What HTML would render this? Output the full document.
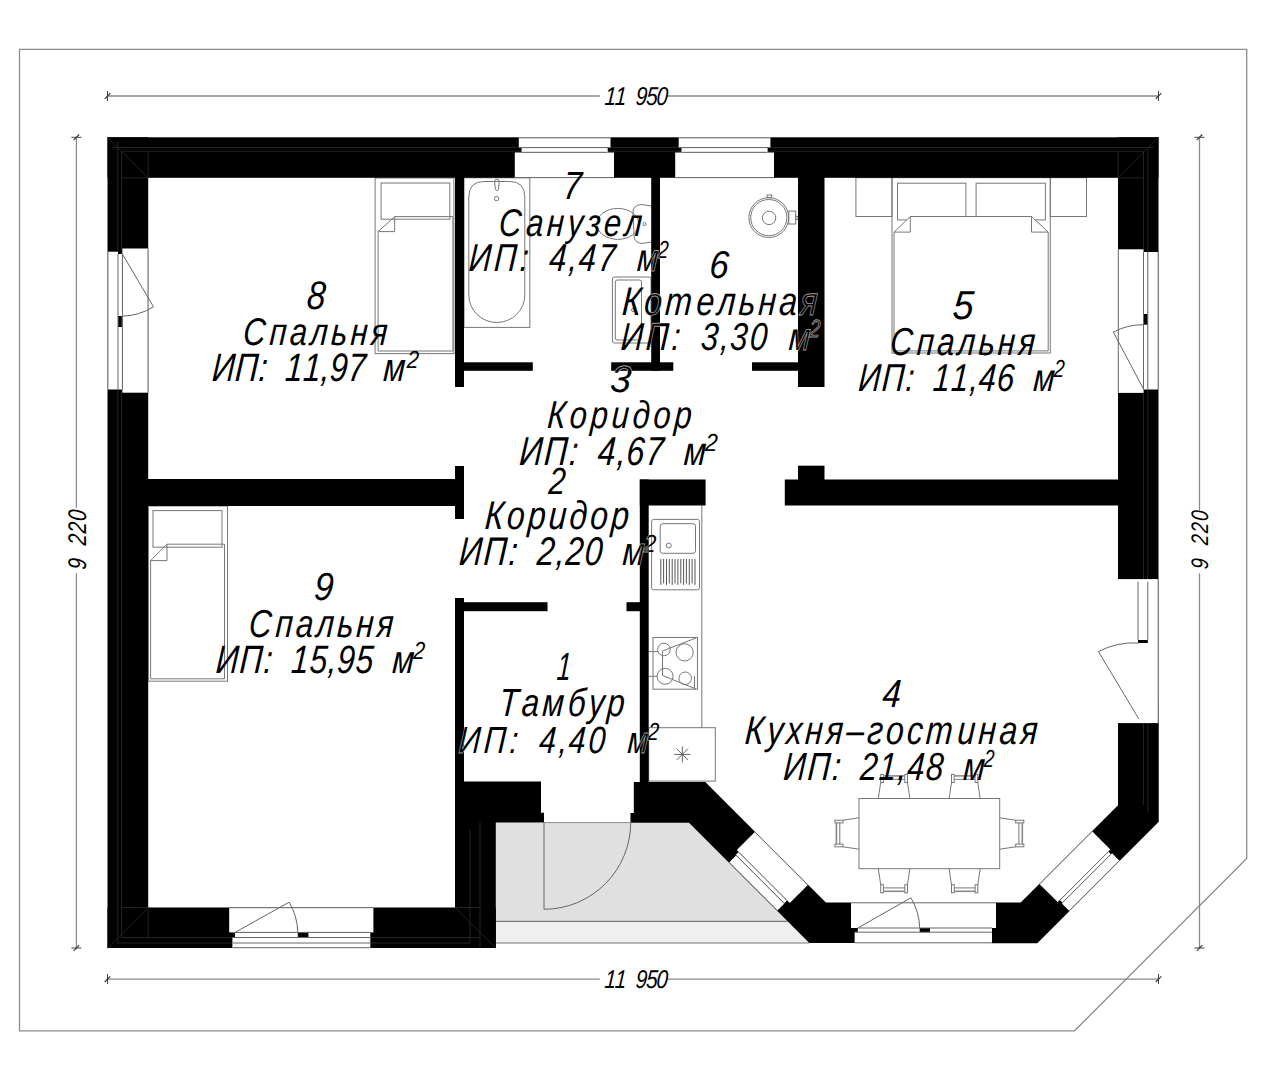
<!DOCTYPE html>
<html><head><meta charset="utf-8"><title>Floor plan</title><style>html,body{margin:0;padding:0;background:#fff;width:1276px;height:1080px;overflow:hidden}</style></head><body>
<svg width="1276" height="1080" viewBox="0 0 1276 1080" style="display:block">
<rect x="0.0" y="0.0" width="1276.0" height="1080.0" fill="#fff" stroke="none" stroke-width="0"/>
<polygon points="19.5,49.3 1246.7,49.3 1246.7,858.5 1074.5,1030.8 19.5,1030.8" fill="none" stroke="#8c8c8c" stroke-width="1.3"/>
<polygon points="495.8,822.5 689.0,822.5 787.5,921.4 495.8,921.4" fill="#e0e0e0" stroke="none" stroke-width="0"/>
<polygon points="495.8,921.4 787.5,921.4 809.2,943.0 495.8,943.0" fill="#efefef" stroke="none" stroke-width="0"/>
<line x1="495.8" y1="921.4" x2="787.5" y2="921.4" stroke="#777" stroke-width="1.2"/>
<line x1="495.8" y1="943.0" x2="809.2" y2="943.0" stroke="#777" stroke-width="1.2"/>
<line x1="107.5" y1="96.0" x2="599.8" y2="96.0" stroke="#8a8a8a" stroke-width="1.3"/>
<line x1="667.2" y1="96.0" x2="1158.5" y2="96.0" stroke="#8a8a8a" stroke-width="1.3"/>
<line x1="107.5" y1="91.0" x2="107.5" y2="101.0" stroke="#444" stroke-width="1"/>
<line x1="104.7" y1="98.8" x2="110.3" y2="93.2" stroke="#333" stroke-width="1.1"/>
<line x1="1158.5" y1="91.0" x2="1158.5" y2="101.0" stroke="#444" stroke-width="1"/>
<line x1="1155.7" y1="98.8" x2="1161.3" y2="93.2" stroke="#333" stroke-width="1.1"/>
<line x1="107.5" y1="979.2" x2="599.8" y2="979.2" stroke="#8a8a8a" stroke-width="1.3"/>
<line x1="667.2" y1="979.2" x2="1158.5" y2="979.2" stroke="#8a8a8a" stroke-width="1.3"/>
<line x1="107.5" y1="974.0" x2="107.5" y2="984.0" stroke="#444" stroke-width="1"/>
<line x1="104.7" y1="982.0" x2="110.3" y2="976.4" stroke="#333" stroke-width="1.1"/>
<line x1="1158.5" y1="974.0" x2="1158.5" y2="984.0" stroke="#444" stroke-width="1"/>
<line x1="1155.7" y1="982.0" x2="1161.3" y2="976.4" stroke="#333" stroke-width="1.1"/>
<line x1="76.4" y1="137.3" x2="76.4" y2="507.8" stroke="#8a8a8a" stroke-width="1.3"/>
<line x1="76.4" y1="573.3" x2="76.4" y2="948.0" stroke="#8a8a8a" stroke-width="1.3"/>
<line x1="71.4" y1="137.3" x2="81.4" y2="137.3" stroke="#444" stroke-width="1"/>
<line x1="73.6" y1="140.1" x2="79.2" y2="134.5" stroke="#333" stroke-width="1.1"/>
<line x1="71.4" y1="948.0" x2="81.4" y2="948.0" stroke="#444" stroke-width="1"/>
<line x1="73.6" y1="950.8" x2="79.2" y2="945.2" stroke="#333" stroke-width="1.1"/>
<line x1="1199.5" y1="137.3" x2="1199.5" y2="510.4" stroke="#8a8a8a" stroke-width="1.3"/>
<line x1="1199.5" y1="573.3" x2="1199.5" y2="948.0" stroke="#8a8a8a" stroke-width="1.3"/>
<line x1="1194.5" y1="137.3" x2="1204.5" y2="137.3" stroke="#444" stroke-width="1"/>
<line x1="1196.7" y1="140.1" x2="1202.3" y2="134.5" stroke="#333" stroke-width="1.1"/>
<line x1="1194.5" y1="948.0" x2="1204.5" y2="948.0" stroke="#444" stroke-width="1"/>
<line x1="1196.7" y1="950.8" x2="1202.3" y2="945.2" stroke="#333" stroke-width="1.1"/>
<rect x="375.1" y="178.0" width="78.8" height="175.6" fill="none" stroke="#777" stroke-width="1.0"/>
<rect x="381.1" y="183.0" width="68.7" height="36.2" fill="none" stroke="#777" stroke-width="1.0"/>
<polyline points="394.7,216.6 452.9,216.6 452.9,351.0 378.1,351.0 378.1,231.6 394.7,216.6 394.7,231.6 378.1,231.6" fill="none" stroke="#777" stroke-width="1.0"/>
<rect x="148.2" y="506.0" width="79.3" height="175.2" fill="none" stroke="#777" stroke-width="1.0"/>
<rect x="153.0" y="510.6" width="69.0" height="36.6" fill="none" stroke="#777" stroke-width="1.0"/>
<polyline points="167.0,544.2 224.5,544.2 224.5,678.8 150.6,678.8 150.6,560.6 167.0,544.2 167.0,560.6 150.6,560.6" fill="none" stroke="#777" stroke-width="1.0"/>
<rect x="855.9" y="177.7" width="36.1" height="38.8" fill="none" stroke="#777" stroke-width="1.0"/>
<rect x="1050.3" y="177.7" width="36.2" height="38.8" fill="none" stroke="#777" stroke-width="1.0"/>
<rect x="892.0" y="177.7" width="158.3" height="175.3" fill="none" stroke="#777" stroke-width="1.0"/>
<rect x="897.5" y="183.2" width="68.4" height="36.7" fill="#fff" stroke="#777" stroke-width="1.0"/>
<rect x="976.1" y="183.2" width="69.3" height="36.7" fill="#fff" stroke="#777" stroke-width="1.0"/>
<polygon points="910.3,216.5 1031.5,216.5 1048.2,232.1 1048.2,350.9 894.0,350.9 894.0,232.1 910.3,216.5" fill="#fff" stroke="#777" stroke-width="1.0"/>
<polyline points="910.3,216.5 910.3,232.1 894.0,232.1" fill="none" stroke="#777" stroke-width="1.0"/>
<polyline points="1031.5,216.5 1031.5,232.1 1048.2,232.1" fill="none" stroke="#777" stroke-width="1.0"/>
<rect x="464.0" y="177.8" width="65.8" height="149.6" fill="none" stroke="#777" stroke-width="1.0"/>
<path d="M 468.8,197 Q 468.8,181.5 484,181.5 L 509.6,181.5 Q 524.8,181.5 524.8,197 L 524.8,295 A 28 27.5 0 0 1 468.8,295 Z" fill="none" stroke="#777" stroke-width="1.0"/>
<path d="M 494.6,181.5 L 495.4,189.5 A 1.6 1.6 0 0 0 498.4,189.5 L 499.2,181.5 A 2.3 2.3 0 0 0 494.6,181.5 Z" fill="none" stroke="#777" stroke-width="1.0"/>
<circle cx="496.6" cy="198.6" r="2.2" fill="none" stroke="#777" stroke-width="1.0"/>
<ellipse cx="617.8" cy="223.9" rx="21" ry="15.5" fill="none" stroke="#777" stroke-width="1"/>
<path d="M 651,206 L 642,204.5 Q 632,205 633,214 L 634,233 Q 633,243 642,243.5 L 651,242" fill="none" stroke="#777" stroke-width="1.0"/>
<circle cx="644.5" cy="224.1" r="1.6" fill="none" stroke="#777" stroke-width="1.0"/>
<rect x="612.4" y="277.0" width="38.6" height="66.0" rx="2" fill="none" stroke="#777" stroke-width="1.0"/>
<rect x="615.3" y="280.0" width="26.2" height="60.0" rx="2" fill="none" stroke="#777" stroke-width="1.0"/>
<circle cx="633.0" cy="310.0" r="1.5" fill="none" stroke="#777" stroke-width="1.0"/>
<circle cx="768.8" cy="217.6" r="19.9" fill="none" stroke="#777" stroke-width="1.0"/>
<circle cx="768.8" cy="217.6" r="18.1" fill="none" stroke="#777" stroke-width="1.0"/>
<circle cx="769.1" cy="217.9" r="6.7" fill="none" stroke="#777" stroke-width="1.0"/>
<rect x="767.2" y="195.0" width="4.5" height="2.6" fill="none" stroke="#777" stroke-width="1.0"/>
<rect x="788.8" y="211.1" width="6.9" height="12.9" fill="none" stroke="#777" stroke-width="1.0"/>
<rect x="795.7" y="216.3" width="2.3" height="3.3" fill="none" stroke="#777" stroke-width="1.0"/>
<line x1="701.8" y1="505.3" x2="701.8" y2="727.7" stroke="#777" stroke-width="1.0"/>
<rect x="651.6" y="519.4" width="47.9" height="70.4" rx="2" fill="none" stroke="#777" stroke-width="1.0"/>
<rect x="660.2" y="523.7" width="35.3" height="29.6" rx="2.5" fill="none" stroke="#777" stroke-width="1.0"/>
<circle cx="668.8" cy="545.5" r="2.5" fill="none" stroke="#777" stroke-width="1.0"/>
<line x1="660.8" y1="559.0" x2="660.8" y2="584.9" stroke="#444" stroke-width="0.9"/>
<line x1="663.6" y1="559.0" x2="663.6" y2="583.4" stroke="#444" stroke-width="0.9"/>
<line x1="666.5" y1="559.0" x2="666.5" y2="584.9" stroke="#444" stroke-width="0.9"/>
<line x1="669.3" y1="559.0" x2="669.3" y2="583.4" stroke="#444" stroke-width="0.9"/>
<line x1="672.2" y1="559.0" x2="672.2" y2="584.9" stroke="#444" stroke-width="0.9"/>
<line x1="675.0" y1="559.0" x2="675.0" y2="583.4" stroke="#444" stroke-width="0.9"/>
<line x1="677.9" y1="559.0" x2="677.9" y2="584.9" stroke="#444" stroke-width="0.9"/>
<line x1="680.8" y1="559.0" x2="680.8" y2="583.4" stroke="#444" stroke-width="0.9"/>
<line x1="683.6" y1="559.0" x2="683.6" y2="584.9" stroke="#444" stroke-width="0.9"/>
<line x1="686.4" y1="559.0" x2="686.4" y2="583.4" stroke="#444" stroke-width="0.9"/>
<line x1="689.3" y1="559.0" x2="689.3" y2="584.9" stroke="#444" stroke-width="0.9"/>
<line x1="692.1" y1="559.0" x2="692.1" y2="583.4" stroke="#444" stroke-width="0.9"/>
<line x1="695.0" y1="559.0" x2="695.0" y2="584.9" stroke="#444" stroke-width="0.9"/>
<rect x="653.0" y="637.5" width="44.5" height="51.7" fill="none" stroke="#777" stroke-width="1.0"/>
<circle cx="663.9" cy="649.5" r="6.3" fill="none" stroke="#777" stroke-width="1.0"/>
<circle cx="684.6" cy="652.4" r="8.6" fill="none" stroke="#777" stroke-width="1.0"/>
<circle cx="665.1" cy="676.3" r="8.0" fill="none" stroke="#777" stroke-width="1.0"/>
<circle cx="685.2" cy="678.3" r="6.3" fill="none" stroke="#777" stroke-width="1.0"/>
<line x1="648.7" y1="651.6" x2="658.0" y2="651.6" stroke="#777" stroke-width="1.0"/>
<line x1="648.7" y1="676.3" x2="657.0" y2="676.3" stroke="#777" stroke-width="1.0"/>
<polyline points="662.5,651.0 696.0,638.0" fill="none" stroke="#777" stroke-width="1.0"/>
<polyline points="662.5,651.0 662.5,675.5 696.0,689.0" fill="none" stroke="#777" stroke-width="1.0"/>
<line x1="694.5" y1="676.0" x2="694.5" y2="688.0" stroke="#777" stroke-width="1.0"/>
<rect x="648.7" y="727.7" width="66.6" height="53.4" fill="none" stroke="#777" stroke-width="1.0"/>
<line x1="674.3" y1="754.4" x2="690.3" y2="754.4" stroke="#555" stroke-width="0.9"/>
<line x1="676.6" y1="748.7" x2="688.0" y2="760.1" stroke="#555" stroke-width="0.9"/>
<line x1="682.3" y1="746.4" x2="682.3" y2="762.4" stroke="#555" stroke-width="0.9"/>
<line x1="688.0" y1="748.7" x2="676.6" y2="760.1" stroke="#555" stroke-width="0.9"/>
<rect x="859.0" y="798.5" width="140.7" height="70.2" fill="none" stroke="#777" stroke-width="1.0"/>
<path d="M 878.3,798.5 L 880.7,782.5 M 909.9,798.5 L 907.5,782.5" fill="none" stroke="#777" stroke-width="1.0"/>
<rect x="880.7" y="774.4" width="2.7" height="8.1" fill="none" stroke="#777" stroke-width="1.0"/>
<rect x="904.8" y="774.4" width="2.7" height="8.1" fill="none" stroke="#777" stroke-width="1.0"/>
<line x1="883.4" y1="775.9" x2="904.8" y2="775.9" stroke="#888" stroke-width="1.6"/>
<line x1="883.4" y1="779.3" x2="904.8" y2="779.3" stroke="#777" stroke-width="1"/>
<path d="M 949.1,798.5 L 951.5,782.5 M 980.2,798.5 L 977.8,782.5" fill="none" stroke="#777" stroke-width="1.0"/>
<rect x="951.5" y="774.4" width="2.7" height="8.1" fill="none" stroke="#777" stroke-width="1.0"/>
<rect x="975.1" y="774.4" width="2.7" height="8.1" fill="none" stroke="#777" stroke-width="1.0"/>
<line x1="954.2" y1="775.9" x2="975.1" y2="775.9" stroke="#888" stroke-width="1.6"/>
<line x1="954.2" y1="779.3" x2="975.1" y2="779.3" stroke="#777" stroke-width="1"/>
<path d="M 878.3,868.7 L 880.7,884.7 M 909.9,868.7 L 907.5,884.7" fill="none" stroke="#777" stroke-width="1.0"/>
<rect x="880.7" y="884.7" width="2.7" height="8.1" fill="none" stroke="#777" stroke-width="1.0"/>
<rect x="904.8" y="884.7" width="2.7" height="8.1" fill="none" stroke="#777" stroke-width="1.0"/>
<line x1="883.4" y1="891.3" x2="904.8" y2="891.3" stroke="#888" stroke-width="1.6"/>
<line x1="883.4" y1="887.9" x2="904.8" y2="887.9" stroke="#777" stroke-width="1"/>
<path d="M 949.1,868.7 L 951.5,884.7 M 980.2,868.7 L 977.8,884.7" fill="none" stroke="#777" stroke-width="1.0"/>
<rect x="951.5" y="884.7" width="2.7" height="8.1" fill="none" stroke="#777" stroke-width="1.0"/>
<rect x="975.1" y="884.7" width="2.7" height="8.1" fill="none" stroke="#777" stroke-width="1.0"/>
<line x1="954.2" y1="891.3" x2="975.1" y2="891.3" stroke="#888" stroke-width="1.6"/>
<line x1="954.2" y1="887.9" x2="975.1" y2="887.9" stroke="#777" stroke-width="1"/>
<path d="M 859.0,817.8 L 843.0,820.2 M 859.0,849.2 L 843.0,846.8" fill="none" stroke="#777" stroke-width="1.0"/>
<rect x="834.9" y="820.2" width="8.1" height="2.7" fill="none" stroke="#777" stroke-width="1.0"/>
<rect x="834.9" y="844.1" width="8.1" height="2.7" fill="none" stroke="#777" stroke-width="1.0"/>
<line x1="836.4" y1="822.9" x2="836.4" y2="844.1" stroke="#888" stroke-width="1.6"/>
<line x1="839.8" y1="822.9" x2="839.8" y2="844.1" stroke="#777" stroke-width="1"/>
<path d="M 999.7,817.8 L 1015.7,820.2 M 999.7,849.2 L 1015.7,846.8" fill="none" stroke="#777" stroke-width="1.0"/>
<rect x="1015.7" y="820.2" width="8.1" height="2.7" fill="none" stroke="#777" stroke-width="1.0"/>
<rect x="1015.7" y="844.1" width="8.1" height="2.7" fill="none" stroke="#777" stroke-width="1.0"/>
<line x1="1022.3" y1="822.9" x2="1022.3" y2="844.1" stroke="#888" stroke-width="1.6"/>
<line x1="1018.9" y1="822.9" x2="1018.9" y2="844.1" stroke="#777" stroke-width="1"/>
<rect x="107.5" y="137.3" width="1051.0" height="40.5" fill="#000" stroke="none" stroke-width="0"/>
<rect x="107.5" y="137.3" width="40.7" height="810.7" fill="#000" stroke="none" stroke-width="0"/>
<rect x="1118.0" y="137.3" width="40.5" height="684.7" fill="#000" stroke="none" stroke-width="0"/>
<rect x="107.5" y="907.5" width="388.3" height="40.5" fill="#000" stroke="none" stroke-width="0"/>
<polygon points="455.0,781.5 541.0,781.5 541.0,812.7 544.0,812.7 544.0,822.5 495.8,822.5 495.8,948.0 455.0,948.0" fill="#000" stroke="none" stroke-width="0"/>
<polygon points="633.8,782.0 705.3,782.0 825.9,902.6 851.0,902.6 851.0,928.0 857.9,928.0 857.9,932.2 854.8,932.2 854.8,943.0 809.3,943.0 689.0,822.7 630.5,822.7 630.5,813.0 633.8,813.0" fill="#000" stroke="none" stroke-width="0"/>
<polygon points="1118.0,700.0 1158.5,700.0 1158.5,822.0 1037.3,943.2 991.7,943.2 991.7,928.0 996.0,928.0 996.0,902.6 1020.7,902.6 1118.0,805.3" fill="#000" stroke="none" stroke-width="0"/>
<rect x="455.0" y="177.0" width="9.0" height="210.0" fill="#000" stroke="none" stroke-width="0"/>
<rect x="460.0" y="362.3" width="72.8" height="8.5" fill="#000" stroke="none" stroke-width="0"/>
<rect x="651.2" y="177.0" width="8.8" height="193.8" fill="#000" stroke="none" stroke-width="0"/>
<rect x="611.2" y="362.3" width="62.1" height="8.5" fill="#000" stroke="none" stroke-width="0"/>
<rect x="752.0" y="362.3" width="46.5" height="8.5" fill="#000" stroke="none" stroke-width="0"/>
<rect x="798.0" y="177.0" width="26.5" height="210.0" fill="#000" stroke="none" stroke-width="0"/>
<rect x="148.0" y="479.0" width="307.5" height="27.0" fill="#000" stroke="none" stroke-width="0"/>
<rect x="455.0" y="466.0" width="9.0" height="53.0" fill="#000" stroke="none" stroke-width="0"/>
<rect x="639.8" y="479.5" width="65.8" height="26.0" fill="#000" stroke="none" stroke-width="0"/>
<rect x="639.8" y="479.5" width="8.9" height="303.5" fill="#000" stroke="none" stroke-width="0"/>
<rect x="784.8" y="479.5" width="333.7" height="26.0" fill="#000" stroke="none" stroke-width="0"/>
<rect x="798.0" y="465.7" width="26.5" height="15.3" fill="#000" stroke="none" stroke-width="0"/>
<rect x="455.0" y="598.0" width="9.0" height="185.0" fill="#000" stroke="none" stroke-width="0"/>
<rect x="460.0" y="602.2" width="87.5" height="9.0" fill="#000" stroke="none" stroke-width="0"/>
<rect x="626.5" y="602.2" width="13.5" height="9.0" fill="#000" stroke="none" stroke-width="0"/>
<line x1="112.0" y1="147.4" x2="1154.0" y2="147.4" stroke="#242424" stroke-width="1.0"/>
<line x1="121.6" y1="151.2" x2="1143.5" y2="151.2" stroke="#242424" stroke-width="1.0"/>
<line x1="117.8" y1="142.0" x2="117.8" y2="944.0" stroke="#242424" stroke-width="1.0"/>
<line x1="121.6" y1="151.2" x2="121.6" y2="937.5" stroke="#242424" stroke-width="1.0"/>
<line x1="1143.5" y1="151.2" x2="1143.5" y2="805.0" stroke="#242424" stroke-width="1.0"/>
<line x1="1147.8" y1="147.4" x2="1147.8" y2="812.0" stroke="#242424" stroke-width="1.0"/>
<line x1="117.8" y1="943.0" x2="470.0" y2="943.0" stroke="#242424" stroke-width="1.0"/>
<line x1="121.6" y1="937.5" x2="480.0" y2="937.5" stroke="#242424" stroke-width="1.0"/>
<line x1="107.5" y1="137.3" x2="148.2" y2="177.8" stroke="#242424" stroke-width="1.0"/>
<line x1="1158.5" y1="137.3" x2="1118.0" y2="177.8" stroke="#242424" stroke-width="1.0"/>
<line x1="107.5" y1="948.0" x2="148.2" y2="907.5" stroke="#242424" stroke-width="1.0"/>
<line x1="148.2" y1="151.2" x2="148.2" y2="177.8" stroke="#242424" stroke-width="1.0"/>
<line x1="121.6" y1="177.8" x2="148.2" y2="177.8" stroke="#242424" stroke-width="1.0"/>
<line x1="1118.0" y1="151.2" x2="1118.0" y2="177.8" stroke="#242424" stroke-width="1.0"/>
<line x1="1118.0" y1="177.8" x2="1143.5" y2="177.8" stroke="#242424" stroke-width="1.0"/>
<line x1="121.6" y1="907.5" x2="148.2" y2="907.5" stroke="#242424" stroke-width="1.0"/>
<line x1="148.2" y1="907.5" x2="148.2" y2="937.5" stroke="#242424" stroke-width="1.0"/>
<line x1="455.0" y1="907.5" x2="480.0" y2="907.5" stroke="#242424" stroke-width="1.0"/>
<line x1="480.0" y1="822.0" x2="480.0" y2="948.0" stroke="#242424" stroke-width="1.0"/>
<line x1="470.0" y1="830.0" x2="470.0" y2="943.0" stroke="#242424" stroke-width="1.0"/>
<line x1="455.0" y1="907.5" x2="495.8" y2="948.0" stroke="#242424" stroke-width="1.0"/>
<rect x="518.8" y="137.3" width="91.7" height="10.3" fill="#fff" stroke="none" stroke-width="0"/>
<rect x="521.6" y="147.6" width="86.1" height="4.9" fill="#fff" stroke="none" stroke-width="0"/>
<rect x="514.8" y="152.5" width="99.2" height="25.3" fill="#fff" stroke="none" stroke-width="0"/>
<rect x="678.7" y="137.3" width="91.7" height="10.3" fill="#fff" stroke="none" stroke-width="0"/>
<rect x="681.5" y="147.6" width="86.1" height="4.9" fill="#fff" stroke="none" stroke-width="0"/>
<rect x="675.2" y="152.5" width="98.8" height="25.3" fill="#fff" stroke="none" stroke-width="0"/>
<line x1="518.8" y1="137.8" x2="610.0" y2="137.8" stroke="#666" stroke-width="1.0"/>
<line x1="518.8" y1="147.6" x2="610.0" y2="147.6" stroke="#666" stroke-width="1.0"/>
<line x1="521.8" y1="152.3" x2="607.0" y2="152.3" stroke="#666" stroke-width="1.0"/>
<line x1="514.8" y1="177.6" x2="614.0" y2="177.6" stroke="#666" stroke-width="1.0"/>
<line x1="679.2" y1="137.8" x2="770.0" y2="137.8" stroke="#666" stroke-width="1.0"/>
<line x1="679.2" y1="147.6" x2="770.0" y2="147.6" stroke="#666" stroke-width="1.0"/>
<line x1="682.2" y1="152.3" x2="767.0" y2="152.3" stroke="#666" stroke-width="1.0"/>
<line x1="675.2" y1="177.6" x2="774.0" y2="177.6" stroke="#666" stroke-width="1.0"/>
<rect x="107.5" y="251.7" width="10.5" height="137.8" fill="#fff" stroke="none" stroke-width="0"/>
<rect x="118.0" y="254.0" width="4.4" height="62.0" fill="#fff" stroke="none" stroke-width="0"/>
<rect x="118.0" y="327.0" width="4.4" height="62.5" fill="#fff" stroke="none" stroke-width="0"/>
<rect x="122.4" y="248.5" width="25.8" height="144.2" fill="#fff" stroke="none" stroke-width="0"/>
<line x1="107.9" y1="251.7" x2="107.9" y2="389.5" stroke="#666" stroke-width="1.0"/>
<line x1="118.0" y1="254.0" x2="118.0" y2="389.5" stroke="#666" stroke-width="1.0"/>
<line x1="122.4" y1="254.0" x2="122.4" y2="389.5" stroke="#666" stroke-width="1.0"/>
<line x1="148.0" y1="248.5" x2="148.0" y2="392.7" stroke="#666" stroke-width="1.0"/>
<line x1="122.4" y1="254.0" x2="153.5" y2="306.8" stroke="#666" stroke-width="1.0"/>
<path d="M 153.5,306.8 A 62 62 0 0 1 122.4,316.2" fill="none" stroke="#666" stroke-width="1.0"/>
<rect x="1118.0" y="249.3" width="25.5" height="143.6" fill="#fff" stroke="none" stroke-width="0"/>
<rect x="1143.5" y="252.0" width="4.3" height="62.0" fill="#fff" stroke="none" stroke-width="0"/>
<rect x="1143.5" y="324.7" width="4.3" height="64.8" fill="#fff" stroke="none" stroke-width="0"/>
<rect x="1147.8" y="252.0" width="10.7" height="137.5" fill="#fff" stroke="none" stroke-width="0"/>
<line x1="1118.3" y1="249.3" x2="1118.3" y2="392.9" stroke="#666" stroke-width="1.0"/>
<line x1="1143.5" y1="252.0" x2="1143.5" y2="389.5" stroke="#666" stroke-width="1.0"/>
<line x1="1147.8" y1="252.0" x2="1147.8" y2="389.5" stroke="#666" stroke-width="1.0"/>
<line x1="1158.2" y1="252.0" x2="1158.2" y2="389.5" stroke="#666" stroke-width="1.0"/>
<line x1="1143.5" y1="389.0" x2="1113.3" y2="332.0" stroke="#666" stroke-width="1.0"/>
<path d="M 1113.3,332 A 64.4 64.4 0 0 1 1143.5,324.7" fill="none" stroke="#666" stroke-width="1.0"/>
<rect x="1118.0" y="579.1" width="40.5" height="144.0" fill="#fff" stroke="none" stroke-width="0"/>
<rect x="1138.0" y="640.0" width="9.8" height="3.0" fill="#000" stroke="none" stroke-width="0"/>
<line x1="1138.0" y1="581.7" x2="1138.0" y2="640.0" stroke="#666" stroke-width="1.0"/>
<line x1="1147.8" y1="581.7" x2="1147.8" y2="640.0" stroke="#666" stroke-width="1.0"/>
<line x1="1158.2" y1="579.1" x2="1158.2" y2="723.1" stroke="#666" stroke-width="1.0"/>
<line x1="1138.8" y1="718.9" x2="1098.4" y2="651.5" stroke="#666" stroke-width="1.0"/>
<path d="M 1098.4,651.5 A 77 77 0 0 1 1138.8,643" fill="none" stroke="#666" stroke-width="1.0"/>
<rect x="229.2" y="907.5" width="144.2" height="24.9" fill="#fff" stroke="none" stroke-width="0"/>
<rect x="235.0" y="932.4" width="135.3" height="5.1" fill="#fff" stroke="none" stroke-width="0"/>
<rect x="232.4" y="937.5" width="137.9" height="10.5" fill="#fff" stroke="none" stroke-width="0"/>
<rect x="297.8" y="932.4" width="10.6" height="5.1" fill="#000" stroke="none" stroke-width="0"/>
<line x1="229.2" y1="907.7" x2="373.4" y2="907.7" stroke="#666" stroke-width="1.0"/>
<line x1="235.0" y1="932.4" x2="370.3" y2="932.4" stroke="#666" stroke-width="1.0"/>
<line x1="232.4" y1="937.5" x2="370.3" y2="937.5" stroke="#666" stroke-width="1.0"/>
<line x1="232.4" y1="943.0" x2="370.3" y2="943.0" stroke="#666" stroke-width="1.0"/>
<line x1="232.4" y1="947.7" x2="370.3" y2="947.7" stroke="#666" stroke-width="1.0"/>
<line x1="235.0" y1="932.4" x2="289.2" y2="902.2" stroke="#666" stroke-width="1.0"/>
<path d="M 289.2,902.2 A 62.4 62.4 0 0 1 297.8,932.4" fill="none" stroke="#666" stroke-width="1.0"/>
<rect x="851.0" y="902.6" width="145.0" height="25.4" fill="#fff" stroke="none" stroke-width="0"/>
<rect x="857.9" y="928.0" width="134.1" height="4.2" fill="#fff" stroke="none" stroke-width="0"/>
<rect x="854.8" y="932.2" width="137.2" height="10.8" fill="#fff" stroke="none" stroke-width="0"/>
<rect x="919.7" y="928.0" width="10.3" height="4.2" fill="#000" stroke="none" stroke-width="0"/>
<line x1="851.0" y1="902.8" x2="996.0" y2="902.8" stroke="#666" stroke-width="1.0"/>
<line x1="857.9" y1="928.0" x2="992.0" y2="928.0" stroke="#666" stroke-width="1.0"/>
<line x1="854.8" y1="932.2" x2="992.0" y2="932.2" stroke="#666" stroke-width="1.0"/>
<line x1="854.8" y1="942.8" x2="992.0" y2="942.8" stroke="#666" stroke-width="1.0"/>
<line x1="857.9" y1="928.0" x2="910.9" y2="897.8" stroke="#666" stroke-width="1.0"/>
<path d="M 910.9,897.8 A 61.4 61.4 0 0 1 919.7,928" fill="none" stroke="#666" stroke-width="1.0"/>
<polygon points="754.8,831.9 807.9,884.9 789.8,903.0 736.8,849.9" fill="#fff" stroke="none" stroke-width="0"/>
<polygon points="738.8,851.9 787.2,900.3 784.0,903.5 735.6,855.1" fill="#fff" stroke="none" stroke-width="0"/>
<polygon points="736.0,855.5 784.2,903.7 777.3,910.6 729.1,862.5" fill="#fff" stroke="none" stroke-width="0"/>
<line x1="754.8" y1="832.0" x2="807.8" y2="885.0" stroke="#666" stroke-width="1.0"/>
<line x1="738.6" y1="852.1" x2="786.9" y2="900.5" stroke="#666" stroke-width="1.0"/>
<line x1="735.8" y1="854.9" x2="784.2" y2="903.3" stroke="#666" stroke-width="1.0"/>
<line x1="729.2" y1="862.4" x2="777.3" y2="910.5" stroke="#666" stroke-width="1.0"/>
<polygon points="1092.1,831.2 1039.4,883.9 1057.7,902.1 1110.4,849.4" fill="#fff" stroke="none" stroke-width="0"/>
<polygon points="1108.2,851.6 1059.8,900.0 1062.6,902.8 1111.1,854.4" fill="#fff" stroke="none" stroke-width="0"/>
<polygon points="1112.1,853.3 1061.9,903.5 1069.3,910.9 1119.5,860.7" fill="#fff" stroke="none" stroke-width="0"/>
<line x1="1092.3" y1="831.3" x2="1039.6" y2="884.0" stroke="#666" stroke-width="1.0"/>
<line x1="1108.4" y1="851.7" x2="1060.0" y2="900.1" stroke="#666" stroke-width="1.0"/>
<line x1="1110.9" y1="854.2" x2="1062.4" y2="902.6" stroke="#666" stroke-width="1.0"/>
<line x1="1119.4" y1="860.5" x2="1069.1" y2="910.8" stroke="#666" stroke-width="1.0"/>
<line x1="544.0" y1="822.5" x2="544.0" y2="909.3" stroke="#666" stroke-width="1.0"/>
<path d="M 544,909.3 A 86.8 86.8 0 0 0 630.7,822.5" fill="none" stroke="#666" stroke-width="1.0"/>
<line x1="544.0" y1="822.6" x2="630.7" y2="822.6" stroke="#8a8a8a" stroke-width="1.0"/>
<g font-family="Liberation Sans, sans-serif" font-style="italic" stroke="none">
<g stroke="none">
<text transform="translate(-1,104.90) skewX(-4) scale(0.8000,1)" x="756.46 769.46 782.46 795.32 808.32 821.33" font-size="25.87" fill="#000">11 950</text>
<text transform="translate(-1,987.90) skewX(-4) scale(0.8000,1)" x="756.46 769.48 782.50 795.37 808.39 821.41" font-size="25.73" fill="#000">11 950</text>
<text transform="translate(85.60,569.30) rotate(-90) skewX(-4) scale(0.8000,1)" x="-0.87 14.30 29.31 44.48 59.65" font-size="25.50" fill="#000">9 220</text>
<text transform="translate(1208.00,568.90) rotate(-90) skewX(-4) scale(0.8000,1)" x="-0.82 14.25 29.14 44.20 59.27" font-size="23.93" fill="#000">9 220</text>
</g>
<text transform="translate(306.22,309.10) skewX(-4) scale(0.8386,1)" font-size="39.83" fill="#000">8</text>
<text transform="translate(-1,344.90) skewX(-4) scale(0.8000,1)" x="304.25 337.52 362.87 388.50 414.48 438.71 464.06" font-size="38.54" fill="#000">Спальня</text>
<text transform="translate(-1,381.00) skewX(-4) scale(0.8000,1)" x="265.65 294.45 323.61 334.80 356.94 379.32 401.71 412.89 435.28 457.66 479.80" font-size="39.68" fill="#000">ИП: 11,97 м</text>
<text transform="translate(406.62,367.80) skewX(-4) scale(0.8551,1)" font-size="24.79" fill="#000">2</text>
<text transform="translate(562.50,198.60) skewX(-4) scale(0.8381,1)" font-size="39.24" fill="#000">7</text>
<text transform="translate(-1,236.00) skewX(-4) scale(0.8000,1)" x="624.12 658.02 684.12 709.95 733.43 755.25 781.35" font-size="38.68" fill="#000">Санузел</text>
<text transform="translate(-1,271.00) skewX(-4) scale(0.8000,1)" x="586.68 618.26 650.25 662.52 686.80 711.35 723.62 748.17 772.73 797.01" font-size="38.81" fill="#000">ИП: 4,47 м</text>
<text transform="translate(657.41,258.20) skewX(-4) scale(0.7592,1)" font-size="24.79" fill="#000">2</text>
<text transform="translate(708.76,278.10) skewX(-4) scale(0.8912,1)" font-size="38.83" fill="#000">6</text>
<text transform="translate(-1,314.80) skewX(-4) scale(0.8000,1)" x="778.02 805.73 831.89 871.06 897.21 923.74 948.47 974.34 1000.50" font-size="40.12" fill="#000">Котельная</text>
<text transform="translate(-1,350.20) skewX(-4) scale(0.8000,1)" x="776.43 807.98 839.93 852.19 876.44 900.97 913.22 937.75 962.28 986.54" font-size="38.95" fill="#000">ИП: 3,30 м</text>
<text transform="translate(809.11,336.80) skewX(-4) scale(0.7740,1)" font-size="24.79" fill="#000">2</text>
<text transform="translate(951.96,318.50) skewX(-4) scale(0.9280,1)" font-size="40.40" fill="#000">5</text>
<text transform="translate(-1,354.60) skewX(-4) scale(0.8000,1)" x="1113.22 1146.56 1171.96 1197.63 1223.66 1247.94 1273.34" font-size="38.97" fill="#000">Спальня</text>
<text transform="translate(-1,390.70) skewX(-4) scale(0.8000,1)" x="1073.43 1102.84 1132.62 1144.05 1166.65 1189.52 1212.38 1223.80 1246.66 1269.52 1292.13" font-size="38.81" fill="#000">ИП: 11,46 м</text>
<text transform="translate(1053.51,377.20) skewX(-4) scale(0.7592,1)" font-size="24.79" fill="#000">2</text>
<text transform="translate(609.42,391.80) skewX(-4) scale(0.9979,1)" font-size="37.68" fill="#000">3</text>
<text transform="translate(-1,428.00) skewX(-4) scale(0.8000,1)" x="684.68 712.47 738.69 764.91 791.13 817.20 843.42" font-size="38.81" fill="#000">Коридор</text>
<text transform="translate(-1,464.90) skewX(-4) scale(0.8000,1)" x="649.64 680.50 711.76 723.74 747.47 771.46 783.45 807.44 831.44 855.17" font-size="40.26" fill="#000">ИП: 4,67 м</text>
<text transform="translate(704.73,450.80) skewX(-4) scale(0.8919,1)" font-size="24.79" fill="#000">2</text>
<text transform="translate(547.88,493.90) skewX(-4) scale(0.7970,1)" font-size="37.82" fill="#000">2</text>
<text transform="translate(-1,529.00) skewX(-4) scale(0.8000,1)" x="606.52 634.14 660.21 686.27 712.34 738.24 764.31" font-size="39.97" fill="#000">Коридор</text>
<text transform="translate(-1,565.20) skewX(-4) scale(0.8000,1)" x="574.40 605.06 636.12 648.03 671.60 695.44 707.35 731.19 755.03 778.61" font-size="39.97" fill="#000">ИП: 2,20 м</text>
<text transform="translate(643.33,551.80) skewX(-4) scale(0.8919,1)" font-size="24.79" fill="#000">2</text>
<text transform="translate(313.42,600.20) skewX(-4) scale(0.8821,1)" font-size="39.11" fill="#000">9</text>
<text transform="translate(-1,636.50) skewX(-4) scale(0.8000,1)" x="311.72 344.93 370.24 395.83 421.77 445.95 471.27" font-size="39.11" fill="#000">Спальня</text>
<text transform="translate(-1,673.10) skewX(-4) scale(0.8000,1)" x="270.28 299.95 329.99 341.52 364.32 387.38 410.45 421.97 445.03 468.09 490.90" font-size="39.53" fill="#000">ИП: 15,95 м</text>
<text transform="translate(412.92,659.40) skewX(-4) scale(0.8256,1)" font-size="24.79" fill="#000">2</text>
<text transform="translate(556.15,680.10) skewX(-4) scale(0.6402,1)" font-size="39.24" fill="#000">1</text>
<text transform="translate(-1,716.20) skewX(-4) scale(0.8000,1)" x="624.35 652.66 678.43 710.20 736.27 759.44" font-size="39.24" fill="#000">Тамбур</text>
<text transform="translate(-1,753.10) skewX(-4) scale(0.8000,1)" x="573.71 605.45 637.60 649.93 674.33 699.01 711.33 736.01 760.69 785.09" font-size="37.94" fill="#000">ИП: 4,40 м</text>
<text transform="translate(647.42,739.80) skewX(-4) scale(0.7961,1)" font-size="24.79" fill="#000">2</text>
<text transform="translate(881.69,707.10) skewX(-4) scale(0.8476,1)" font-size="39.39" fill="#000">4</text>
<text transform="translate(-1,744.00) skewX(-4) scale(0.8000,1)" x="931.64 959.53 983.19 1006.85 1032.88 1058.16 1084.48 1107.81 1134.13 1157.79 1197.20 1223.52 1249.56 1275.87" font-size="40.12" fill="#000">Кухня–гостиная</text>
<text transform="translate(-1,779.60) skewX(-4) scale(0.8000,1)" x="979.67 1009.91 1040.54 1052.29 1075.53 1099.04 1122.55 1134.30 1157.81 1181.32 1204.57" font-size="39.10" fill="#000">ИП: 21,48 м</text>
<text transform="translate(983.61,766.80) skewX(-4) scale(0.7445,1)" font-size="24.79" fill="#000">2</text>
</g>
<defs><clipPath id="wc"><rect x="455" y="177" width="9" height="210"/><rect x="651.2" y="177" width="8.799999999999955" height="193.8"/><rect x="611.2" y="362.3" width="62.09999999999991" height="8.5"/><rect x="798" y="177" width="26.5" height="210"/><rect x="639.8" y="479.5" width="8.900000000000091" height="303.5"/><rect x="455" y="598" width="9" height="185"/><rect x="460" y="362.3" width="72.79999999999995" height="8.5"/><rect x="752" y="362.3" width="46.5" height="8.5"/><rect x="455" y="466" width="9" height="53"/></clipPath></defs>
<g clip-path="url(#wc)" font-family="Liberation Sans, sans-serif" font-style="italic">
<text transform="translate(306.22,309.10) skewX(-4) scale(0.8386,1)" font-size="39.83" fill="none" stroke="#9a9a9a" stroke-width="0.9">8</text>
<text transform="translate(-1,344.90) skewX(-4) scale(0.8000,1)" x="304.25 337.52 362.87 388.50 414.48 438.71 464.06" font-size="38.54" fill="none" stroke="#9a9a9a" stroke-width="0.9">Спальня</text>
<text transform="translate(-1,381.00) skewX(-4) scale(0.8000,1)" x="265.65 294.45 323.61 334.80 356.94 379.32 401.71 412.89 435.28 457.66 479.80" font-size="39.68" fill="none" stroke="#9a9a9a" stroke-width="0.9">ИП: 11,97 м</text>
<text transform="translate(406.62,367.80) skewX(-4) scale(0.8551,1)" font-size="24.79" fill="none" stroke="#9a9a9a" stroke-width="0.9">2</text>
<text transform="translate(562.50,198.60) skewX(-4) scale(0.8381,1)" font-size="39.24" fill="none" stroke="#9a9a9a" stroke-width="0.9">7</text>
<text transform="translate(-1,236.00) skewX(-4) scale(0.8000,1)" x="624.12 658.02 684.12 709.95 733.43 755.25 781.35" font-size="38.68" fill="none" stroke="#9a9a9a" stroke-width="0.9">Санузел</text>
<text transform="translate(-1,271.00) skewX(-4) scale(0.8000,1)" x="586.68 618.26 650.25 662.52 686.80 711.35 723.62 748.17 772.73 797.01" font-size="38.81" fill="none" stroke="#9a9a9a" stroke-width="0.9">ИП: 4,47 м</text>
<text transform="translate(657.41,258.20) skewX(-4) scale(0.7592,1)" font-size="24.79" fill="none" stroke="#9a9a9a" stroke-width="0.9">2</text>
<text transform="translate(708.76,278.10) skewX(-4) scale(0.8912,1)" font-size="38.83" fill="none" stroke="#9a9a9a" stroke-width="0.9">6</text>
<text transform="translate(-1,314.80) skewX(-4) scale(0.8000,1)" x="778.02 805.73 831.89 871.06 897.21 923.74 948.47 974.34 1000.50" font-size="40.12" fill="none" stroke="#9a9a9a" stroke-width="0.9">Котельная</text>
<text transform="translate(-1,350.20) skewX(-4) scale(0.8000,1)" x="776.43 807.98 839.93 852.19 876.44 900.97 913.22 937.75 962.28 986.54" font-size="38.95" fill="none" stroke="#9a9a9a" stroke-width="0.9">ИП: 3,30 м</text>
<text transform="translate(809.11,336.80) skewX(-4) scale(0.7740,1)" font-size="24.79" fill="none" stroke="#9a9a9a" stroke-width="0.9">2</text>
<text transform="translate(951.96,318.50) skewX(-4) scale(0.9280,1)" font-size="40.40" fill="none" stroke="#9a9a9a" stroke-width="0.9">5</text>
<text transform="translate(-1,354.60) skewX(-4) scale(0.8000,1)" x="1113.22 1146.56 1171.96 1197.63 1223.66 1247.94 1273.34" font-size="38.97" fill="none" stroke="#9a9a9a" stroke-width="0.9">Спальня</text>
<text transform="translate(-1,390.70) skewX(-4) scale(0.8000,1)" x="1073.43 1102.84 1132.62 1144.05 1166.65 1189.52 1212.38 1223.80 1246.66 1269.52 1292.13" font-size="38.81" fill="none" stroke="#9a9a9a" stroke-width="0.9">ИП: 11,46 м</text>
<text transform="translate(1053.51,377.20) skewX(-4) scale(0.7592,1)" font-size="24.79" fill="none" stroke="#9a9a9a" stroke-width="0.9">2</text>
<text transform="translate(609.42,391.80) skewX(-4) scale(0.9979,1)" font-size="37.68" fill="none" stroke="#9a9a9a" stroke-width="0.9">3</text>
<text transform="translate(-1,428.00) skewX(-4) scale(0.8000,1)" x="684.68 712.47 738.69 764.91 791.13 817.20 843.42" font-size="38.81" fill="none" stroke="#9a9a9a" stroke-width="0.9">Коридор</text>
<text transform="translate(-1,464.90) skewX(-4) scale(0.8000,1)" x="649.64 680.50 711.76 723.74 747.47 771.46 783.45 807.44 831.44 855.17" font-size="40.26" fill="none" stroke="#9a9a9a" stroke-width="0.9">ИП: 4,67 м</text>
<text transform="translate(704.73,450.80) skewX(-4) scale(0.8919,1)" font-size="24.79" fill="none" stroke="#9a9a9a" stroke-width="0.9">2</text>
<text transform="translate(547.88,493.90) skewX(-4) scale(0.7970,1)" font-size="37.82" fill="none" stroke="#9a9a9a" stroke-width="0.9">2</text>
<text transform="translate(-1,529.00) skewX(-4) scale(0.8000,1)" x="606.52 634.14 660.21 686.27 712.34 738.24 764.31" font-size="39.97" fill="none" stroke="#9a9a9a" stroke-width="0.9">Коридор</text>
<text transform="translate(-1,565.20) skewX(-4) scale(0.8000,1)" x="574.40 605.06 636.12 648.03 671.60 695.44 707.35 731.19 755.03 778.61" font-size="39.97" fill="none" stroke="#9a9a9a" stroke-width="0.9">ИП: 2,20 м</text>
<text transform="translate(643.33,551.80) skewX(-4) scale(0.8919,1)" font-size="24.79" fill="none" stroke="#9a9a9a" stroke-width="0.9">2</text>
<text transform="translate(313.42,600.20) skewX(-4) scale(0.8821,1)" font-size="39.11" fill="none" stroke="#9a9a9a" stroke-width="0.9">9</text>
<text transform="translate(-1,636.50) skewX(-4) scale(0.8000,1)" x="311.72 344.93 370.24 395.83 421.77 445.95 471.27" font-size="39.11" fill="none" stroke="#9a9a9a" stroke-width="0.9">Спальня</text>
<text transform="translate(-1,673.10) skewX(-4) scale(0.8000,1)" x="270.28 299.95 329.99 341.52 364.32 387.38 410.45 421.97 445.03 468.09 490.90" font-size="39.53" fill="none" stroke="#9a9a9a" stroke-width="0.9">ИП: 15,95 м</text>
<text transform="translate(412.92,659.40) skewX(-4) scale(0.8256,1)" font-size="24.79" fill="none" stroke="#9a9a9a" stroke-width="0.9">2</text>
<text transform="translate(556.15,680.10) skewX(-4) scale(0.6402,1)" font-size="39.24" fill="none" stroke="#9a9a9a" stroke-width="0.9">1</text>
<text transform="translate(-1,716.20) skewX(-4) scale(0.8000,1)" x="624.35 652.66 678.43 710.20 736.27 759.44" font-size="39.24" fill="none" stroke="#9a9a9a" stroke-width="0.9">Тамбур</text>
<text transform="translate(-1,753.10) skewX(-4) scale(0.8000,1)" x="573.71 605.45 637.60 649.93 674.33 699.01 711.33 736.01 760.69 785.09" font-size="37.94" fill="none" stroke="#9a9a9a" stroke-width="0.9">ИП: 4,40 м</text>
<text transform="translate(647.42,739.80) skewX(-4) scale(0.7961,1)" font-size="24.79" fill="none" stroke="#9a9a9a" stroke-width="0.9">2</text>
<text transform="translate(881.69,707.10) skewX(-4) scale(0.8476,1)" font-size="39.39" fill="none" stroke="#9a9a9a" stroke-width="0.9">4</text>
<text transform="translate(-1,744.00) skewX(-4) scale(0.8000,1)" x="931.64 959.53 983.19 1006.85 1032.88 1058.16 1084.48 1107.81 1134.13 1157.79 1197.20 1223.52 1249.56 1275.87" font-size="40.12" fill="none" stroke="#9a9a9a" stroke-width="0.9">Кухня–гостиная</text>
<text transform="translate(-1,779.60) skewX(-4) scale(0.8000,1)" x="979.67 1009.91 1040.54 1052.29 1075.53 1099.04 1122.55 1134.30 1157.81 1181.32 1204.57" font-size="39.10" fill="none" stroke="#9a9a9a" stroke-width="0.9">ИП: 21,48 м</text>
<text transform="translate(983.61,766.80) skewX(-4) scale(0.7445,1)" font-size="24.79" fill="none" stroke="#9a9a9a" stroke-width="0.9">2</text>
</g>
</svg>
</body></html>
